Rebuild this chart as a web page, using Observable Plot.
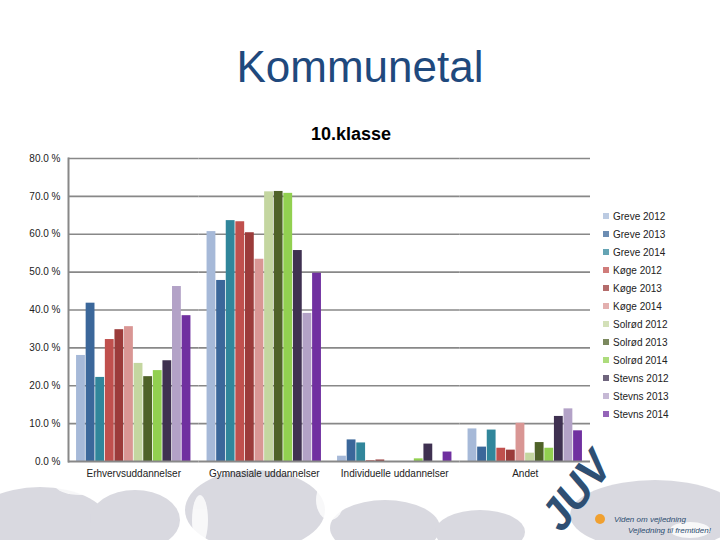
<!DOCTYPE html>
<html>
<head>
<meta charset="utf-8">
<script src="https://cdn.jsdelivr.net/npm/d3@7"></script>
<script src="https://cdn.jsdelivr.net/npm/@observablehq/plot@0.6"></script>
<style>
  html, body { margin: 0; padding: 0; background: #fff; }
  #page { position: relative; width: 720px; height: 540px; overflow: hidden; font-family: "Liberation Sans", Arial, sans-serif; }
  #bg { position: absolute; left: 0; top: 0; }
  #title { position: absolute; left: 0; width: 720px; top: 42px; text-align: center; font-size: 44px; color: #1f497d; }
  #subtitle { position: absolute; left: 0; width: 702px; top: 124px; text-align: center; font-size: 18px; font-weight: bold; color: #000; }
  #chart { position: absolute; left: 0; top: 140px; }
  #legend { position: absolute; left: 603px; top: 209px; font-size: 10px; color: #222; }
  #legend .item { height: 18px; line-height: 16px; white-space: nowrap; }
  #legend .sw { display: inline-block; width: 6px; height: 6px; margin-right: 4px; vertical-align: 1px; opacity: 0.75; }
  #logo { position: absolute; left: 0; top: 0; }
</style>
</head>
<body>
<div id="page">
  <svg id="bg" width="720" height="540">
    <g fill="#cdcdd6" opacity="0.75">
      <ellipse cx="40" cy="525" rx="70" ry="38"></ellipse>
      <ellipse cx="135" cy="520" rx="45" ry="30"></ellipse>
      <ellipse cx="255" cy="510" rx="70" ry="40"></ellipse>
      <ellipse cx="385" cy="528" rx="55" ry="28"></ellipse>
      <ellipse cx="480" cy="532" rx="45" ry="22"></ellipse>
      <ellipse cx="655" cy="515" rx="85" ry="35"></ellipse>
    </g>
    <g fill="#fff" opacity="0.8">
      <ellipse cx="80" cy="485" rx="25" ry="10"></ellipse>
      <ellipse cx="200" cy="520" rx="8" ry="25"></ellipse>
      <ellipse cx="330" cy="500" rx="14" ry="20"></ellipse>
      <ellipse cx="690" cy="530" rx="20" ry="8"></ellipse>
    </g>
  </svg>
  <div id="title">Kommunetal</div>
  <div id="subtitle">10.klasse</div>
  <div id="chart"></div>
  <div id="legend"></div>
  <svg id="logo" width="720" height="540">
    <text x="588" y="500" transform="rotate(-52 588 500)" text-anchor="middle" font-family="Liberation Sans, Arial" font-weight="bold" font-style="italic" font-size="44" fill="#2e4f73">JUV</text>
    <circle cx="600" cy="519" r="5" fill="#f0a030"></circle>
    <text x="614" y="522" font-family="Liberation Sans, Arial" font-style="italic" font-size="8" fill="#2c4d70">Viden om vejledning</text>
    <text x="628" y="533" font-family="Liberation Sans, Arial" font-style="italic" font-size="8" fill="#2c4d70">Vejledning til fremtiden!</text>
  </svg>
</div>
<script>
const categories = ["Erhvervsuddannelser", "Gymnasiale uddannelser", "Individuelle uddannelser", "Andet"];
const series = ["Greve 2012", "Greve 2013", "Greve 2014", "Køge 2012", "Køge 2013", "Køge 2014",
                "Solrød 2012", "Solrød 2013", "Solrød 2014", "Stevns 2012", "Stevns 2013", "Stevns 2014"];
const erhverv      = [28.0, 41.8, 22.2, 32.2, 34.8, 35.6, 25.9, 22.4, 24.0, 26.6, 46.2, 38.5];
const gymnasiale   = [60.7, 47.8, 63.6, 63.3, 60.4, 53.4, 71.2, 71.3, 70.8, 55.7, 39.1, 49.7];
const individuelle = [1.4, 5.7, 4.9, 0.2, 0.4, 0.0, 0.0, 0.0, 0.7, 4.6, 0.0, 2.5];
const andet        = [8.6, 3.8, 8.3, 3.5, 3.0, 10.1, 2.2, 5.0, 3.5, 11.9, 13.9, 8.1];
const colors = ["#a6b9d8", "#3b679a", "#31869b", "#c0504d", "#9b3b3a", "#d99694",
                "#c4d6a0", "#4f6228", "#92d050", "#3f3151", "#b3a2c7", "#7030a0"];
const yTicks = [0, 10, 20, 30, 40, 50, 60, 70, 80];

const groups = [erhverv, gymnasiale, individuelle, andet];
const data = [];
categories.forEach((c, i) => series.forEach((s, j) => data.push({cat: c, series: s, value: groups[i][j]})));

const chart = Plot.plot({
  width: 590, height: 345,
  marginLeft: 68, marginRight: 0, marginTop: 18, marginBottom: 24,
  style: {fontFamily: "Liberation Sans, Arial, sans-serif", fontSize: "10px", color: "#222", background: "transparent"},
  fx: {domain: categories, paddingInner: 0, paddingOuter: 0, round: false, label: null, axis: null},
  x: {domain: series, axis: null, paddingInner: 0.08, paddingOuter: 0.84, round: false},
  y: {domain: [0, 80], label: null, axis: null},
  color: {domain: series, range: colors},
  marks: [
    Plot.ruleY(yTicks.slice(1), {stroke: "#888", strokeWidth: 1.6}),
    Plot.barY(data, {fx: "cat", x: "series", y: "value", fill: "series"}),
    Plot.ruleY([0], {stroke: "#888", strokeWidth: 2}),
    Plot.frame({anchor: "left", facet: "super", stroke: "#888", strokeWidth: 2}),
    Plot.axisY(yTicks, {tickSize: 0, tickPadding: 8, tickFormat: d => d.toFixed(1) + " %", label: null, fontSize: 10}),
    Plot.axisFx({anchor: "bottom", tickSize: 0, tickPadding: 8, label: null, fontSize: 10})
  ]
});
document.getElementById("chart").appendChild(chart);

const legend = document.getElementById("legend");
series.forEach((s, i) => {
  const item = document.createElement("div");
  item.className = "item";
  const sw = document.createElement("span");
  sw.className = "sw";
  sw.style.background = colors[i];
  item.appendChild(sw);
  item.appendChild(document.createTextNode(s));
  legend.appendChild(item);
});
</script>
</body>
</html>
